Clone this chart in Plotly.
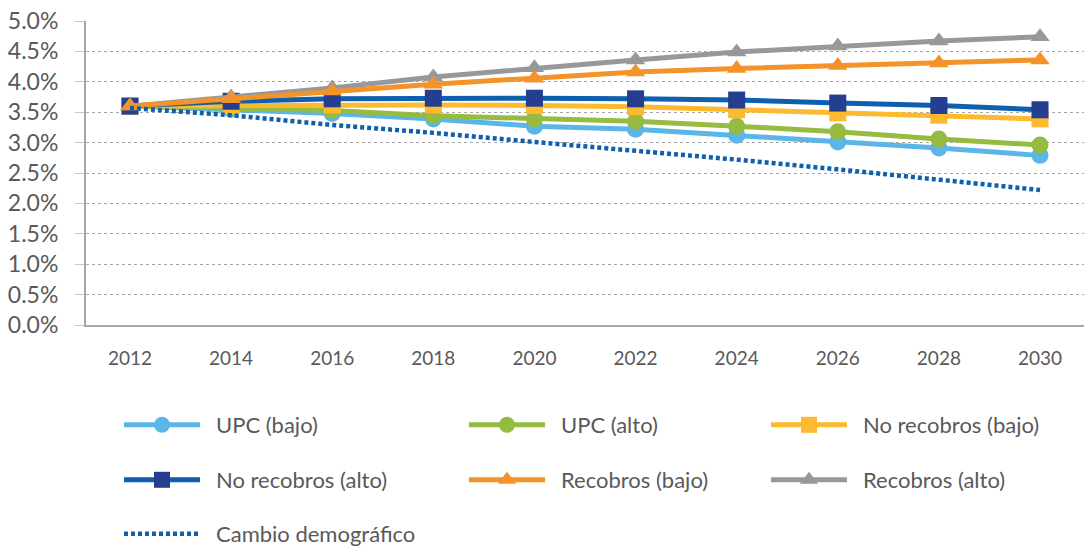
import plotly.graph_objects as go

years = [2012, 2014, 2016, 2018, 2020, 2022, 2024, 2026, 2028, 2030]

upc_bajo = [3.60, 3.55, 3.48, 3.39, 3.27, 3.22, 3.12, 3.01, 2.91, 2.79]
upc_alto = [3.60, 3.57, 3.53, 3.44, 3.39, 3.35, 3.27, 3.18, 3.06, 2.96]
no_rec_bajo = [3.60, 3.61, 3.62, 3.62, 3.61, 3.59, 3.54, 3.49, 3.45, 3.39]
no_rec_alto = [3.60, 3.68, 3.72, 3.73, 3.73, 3.72, 3.70, 3.65, 3.61, 3.54]
rec_bajo = [3.60, 3.72, 3.85, 3.96, 4.06, 4.16, 4.22, 4.27, 4.31, 4.36]
rec_alto = [3.60, 3.75, 3.90, 4.08, 4.23, 4.36, 4.49, 4.59, 4.67, 4.74]
cambio_demo = [3.57, 3.45, 3.29, 3.16, 3.01, 2.87, 2.72, 2.56, 2.39, 2.22]

names = ["UPC (bajo)", "UPC (alto)", "No recobros (bajo)", "No recobros (alto)",
         "Recobros (bajo)", "Recobros (alto)", "Cambio demográfico"]
series = [upc_bajo, upc_alto, no_rec_bajo, no_rec_alto, rec_bajo, rec_alto, cambio_demo]
colors = ["#5BB5E6", "#95BB40", "#FDBA2F", "#263E8F", "#F39329", "#97989B", "#0E5FAE"]
symbols = ["circle", "circle", "square", "square", "triangle-up", "triangle-up", None]
line_colors = ["#5BB5E6", "#95BB40", "#FDBA2F", "#0E5FAE", "#F39329", "#97989B", "#0E5FAE"]

W, H = 1084, 547
L, R, T, B = 86, 0, 21, 222
PW, PH = W - L - R, H - T - B
FONT = "Lato, 'Open Sans', sans-serif"

# legend placement (pixel coords)
leg_pos = [(119, 425), (464, 425), (766, 425),
           (119, 480), (464, 480), (766, 480),
           (119, 534)]
draw_order = [0, 1, 2, 3, 5, 4, 6]


def leg_id(i):
    return "legend" if i == 0 else f"legend{i+1}"


fig = go.Figure()
for i in draw_order:
    vals = [v / 100 for v in series[i]]
    label = "\u2002" + names[i]
    if symbols[i] is None:
        fig.add_trace(go.Scatter(
            x=years, y=vals, name=label, mode="lines", showlegend=True,
            line=dict(color=line_colors[i], width=4.5, dash="4px,3px"),
            legend=leg_id(i)))
    else:
        fig.add_trace(go.Scatter(
            x=years, y=vals, name=label, mode="lines+markers", showlegend=True,
            line=dict(color=line_colors[i], width=5),
            marker=dict(symbol=symbols[i], size=17, color=colors[i]),
            legend=leg_id(i)))

layout_legends = {}
for i, (px, py) in enumerate(leg_pos):
    layout_legends[leg_id(i)] = dict(
        x=(px - L) / PW, y=(H - B - py) / PH, xref="paper", yref="paper",
        xanchor="left", yanchor="middle",
        bgcolor="rgba(0,0,0,0)", itemwidth=76,
        font=dict(size=22, color="#595959", family=FONT),
    )

fig.update_layout(
    width=W, height=H, showlegend=True,
    margin=dict(l=L, r=R, t=T, b=B, autoexpand=False),
    plot_bgcolor="white", paper_bgcolor="white",
    font=dict(family=FONT, color="#595959"),
    **layout_legends,
)
fig.update_xaxes(
    range=[2011.13, 2030.87], tickvals=years, ticktext=[str(y) for y in years],
    showgrid=False, showline=True, linecolor="#A6A6A6", linewidth=2,
    ticks="outside", ticklen=15, tickcolor="rgba(0,0,0,0)",
    tickfont=dict(size=19, color="#595959"), zeroline=False,
)
fig.update_yaxes(
    range=[0, 0.05], dtick=0.005, tickformat=".1%",
    showgrid=True, gridcolor="#A6A6A6", griddash="dot", gridwidth=1,
    showline=True, linecolor="#A6A6A6", linewidth=2,
    ticks="outside", ticklen=9, tickcolor="#C8C8C8",
    ticklabelstandoff=12,
    tickfont=dict(size=23, color="#595959"), zeroline=False,
)
fig.write_html("out.html", config={"displayModeBar": False},
               post_script="document.body.style.margin='0px';")
